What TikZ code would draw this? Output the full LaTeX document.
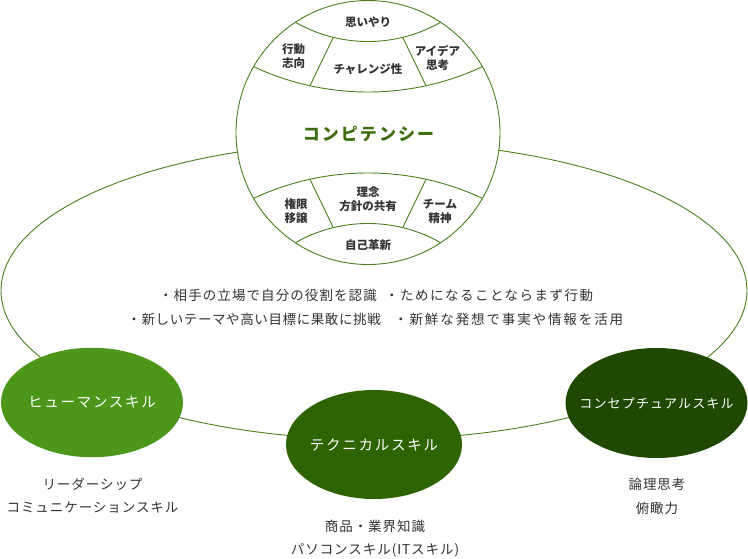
\documentclass[tikz,border=0pt]{standalone}
\usepackage{fontspec}
\setmainfont{Noto Sans CJK JP}
\newfontfamily\jpspaced[LetterSpace=7]{Noto Sans CJK JP}
\newfontfamily\jpwide[LetterSpace=12]{Noto Sans CJK JP}
\definecolor{linegreen}{RGB}{72, 128, 28}
\definecolor{humangreen}{RGB}{76, 150, 26}
\definecolor{techgreen}{RGB}{45, 100, 0}
\definecolor{conceptgreen}{RGB}{31, 72, 0}
\definecolor{titlegreen}{RGB}{62, 110, 14}
\definecolor{textgray}{RGB}{51, 51, 51}
\usepackage{tikz}
\usetikzlibrary{shapes.geometric}

\begin{document}
\begin{tikzpicture}[x=1pt, y=-1pt,
    ln/.style={draw=linegreen, line width=0.9pt},
    skill/.style={ellipse, inner sep=0pt},
    cell/.style={align=center, text=textgray, inner sep=0pt,
                 font=\fontsize{11.5}{14.5}\selectfont\bfseries},
    note/.style={text=textgray, inner sep=0pt,
                 font=\fontsize{13.5}{16}\selectfont\jpspaced}
  ]
    \useasboundingbox[fill=white] (0,0) rectangle (748,559);

    % outer ring through the three skills
    \node[ln, ellipse, inner sep=0pt, minimum width=746pt,
          minimum height=297.6pt] (ring) at (374,290.6) {};

    % competency circle
    \node[ln, circle, fill=white, inner sep=0pt,
          minimum size=264pt] (comp) at (368,132.5) {};
    \begin{scope}
      \clip (368,132.5) circle (132pt);
      \draw[ln] (368,-105) circle (146.5pt);
      \draw[ln] (368,-178) circle (270pt);
      \draw[ln] (368,443) circle (270pt);
      \draw[ln] (368,370) circle (146.5pt);
    \end{scope}
    \draw[ln] (333.3,37.3) -- (310,85.7);
    \draw[ln] (402.7,37.3) -- (426,85.7);
    \draw[ln] (310,179.3) -- (333.3,227.7);
    \draw[ln] (426,179.3) -- (402.7,227.7);

    \node[cell] (kind) at (368,22.5) {思いやり};
    \node[cell] (act) at (293.5,56) {行動\\志向};
    \node[cell] (chal) at (368,69.5) {チャレンジ性};
    \node[cell] (idea) at (437.5,58) {アイデア\\思考};
    \node[font=\fontsize{17}{20}\selectfont\jpwide\bfseries, text=titlegreen]
      (title) at (368.5,134) {コンピテンシー};
    \node[cell] (deleg) at (296,211) {権限\\移譲};
    \node[cell] (share) at (368,199) {理念\\方針の共有};
    \node[cell] (team) at (440,211.5) {チーム\\精神};
    \node[cell] (renew) at (368,245.5) {自己革新};

    % hints inside the ring
    \node[note, anchor=east,
          font=\fontsize{13.5}{16}\selectfont\jpspaced\addfontfeatures{LetterSpace=8}]
      (hintA) at (377,295) {・相手の立場で自分の役割を認識};
    \node[note, anchor=west,
          font=\fontsize{13.5}{16}\selectfont\jpspaced\addfontfeatures{LetterSpace=11}]
      (hintB) at (385,295) {・ためになることならまず行動};
    \node[note, anchor=east,
          font=\fontsize{13.5}{16}\selectfont\jpspaced\addfontfeatures{LetterSpace=4.5}]
      (hintC) at (381,319) {・新しいテーマや高い目標に果敢に挑戦};
    \node[note, anchor=west,
          font=\fontsize{13.5}{16}\selectfont\jpspaced\addfontfeatures{LetterSpace=14}]
      (hintD) at (394,319) {・新鮮な発想で事実や情報を活用};

    % the three skills
    \node[skill, fill=humangreen, minimum width=182pt, minimum height=109.5pt,
          label={[text=white, font=\fontsize{14.5}{17}\selectfont\jpwide]center:ヒューマンスキル}]
      (human) at (92,402.5) {};
    \node[skill, fill=techgreen, minimum width=176pt, minimum height=109pt,
          label={[text=white, font=\fontsize{14.5}{17}\selectfont\jpwide]center:テクニカルスキル}]
      (tech) at (374,444.5) {};
    \node[skill, fill=conceptgreen, minimum width=182pt, minimum height=110pt,
          label={[text=white, font=\fontsize{13}{16}\selectfont\jpwide\addfontfeatures{LetterSpace=9}]center:コンセプチュアルスキル}]
      (concept) at (656.5,403) {};

    \node[note] (humanA) at (92.5,484) {リーダーシップ};
    \node[note] (humanB) at (92.5,508) {コミュニケーションスキル};
    \node[note] (techA) at (375,526) {商品・業界知識};
    \node[note] (techB) at (375,550) {パソコンスキル(ITスキル)};
    \node[note] (conceptA) at (657,484) {論理思考};
    \node[note] (conceptB) at (657,508) {俯瞰力};
  \end{tikzpicture}
\end{document}
